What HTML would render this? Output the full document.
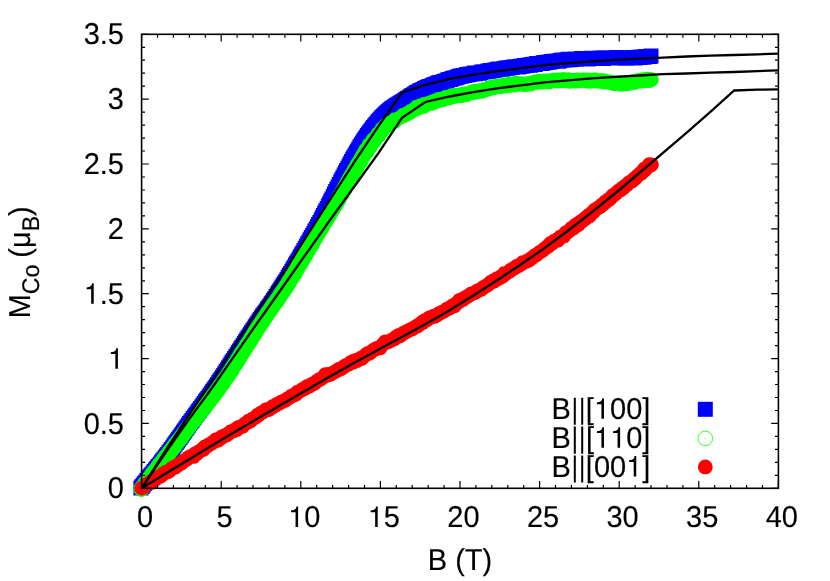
<!DOCTYPE html>
<html>
<head>
<meta charset="utf-8">
<title>M_Co vs B</title>
<style>
html,body{margin:0;padding:0;background:#fff;}
body{width:830px;height:581px;overflow:hidden;}
.h{fill:none;stroke:none;}
svg{display:block;will-change:transform;transform:translateZ(0);}
text{font-family:"Liberation Sans",sans-serif;font-size:29.0px;fill:#000;stroke:#000;stroke-width:0.15px;-webkit-font-smoothing:antialiased;text-rendering:geometricPrecision;font-kerning:none;font-feature-settings:"kern" 0;}
</style>
</head>
<body>
<svg width="830" height="581" viewBox="0 0 830 581">
<rect width="830" height="581" fill="#fff"/>
<!-- data: B||[100] -->
<path d="M133.4,480.4h15v15h-15zM134.6,479h15v15h-15zM135.8,477.5h15v15h-15zM137.1,476h15v15h-15zM138.3,474.5h15v15h-15zM139.5,472.9h15v15h-15zM140.7,471.4h15v15h-15zM141.9,470h15v15h-15zM143.1,468.6h15v15h-15zM144.4,466.9h15v15h-15zM145.6,465.5h15v15h-15zM146.8,463.9h15v15h-15zM148,462.5h15v15h-15zM149.2,460.9h15v15h-15zM150.4,459.3h15v15h-15zM151.7,457.9h15v15h-15zM152.9,456.5h15v15h-15zM154.1,454.7h15v15h-15zM155.3,453.2h15v15h-15zM156.5,451.7h15v15h-15zM157.7,450.1h15v15h-15zM159,448.6h15v15h-15zM160.2,446.9h15v15h-15zM161.4,445.3h15v15h-15zM162.6,443.8h15v15h-15zM163.8,442h15v15h-15zM165.1,440.4h15v15h-15zM166.3,438.6h15v15h-15zM167.5,436.8h15v15h-15zM168.7,435.1h15v15h-15zM169.9,433.6h15v15h-15zM171.1,431.7h15v15h-15zM172.4,430h15v15h-15zM173.6,428.2h15v15h-15zM174.8,426.5h15v15h-15zM176,424.8h15v15h-15zM177.2,423.2h15v15h-15zM178.4,421.2h15v15h-15zM179.7,419.5h15v15h-15zM180.9,417.8h15v15h-15zM182.1,416.1h15v15h-15zM183.3,414.6h15v15h-15zM184.5,412.9h15v15h-15zM185.7,411.1h15v15h-15zM187,409.4h15v15h-15zM188.2,407.8h15v15h-15zM189.4,406.2h15v15h-15zM190.6,404.3h15v15h-15zM191.8,402.8h15v15h-15zM193.1,401h15v15h-15zM194.3,399.5h15v15h-15zM195.5,397.7h15v15h-15zM196.7,396h15v15h-15zM197.9,394.3h15v15h-15zM199.1,392.6h15v15h-15zM200.4,391.1h15v15h-15zM201.6,389.3h15v15h-15zM202.8,387.5h15v15h-15zM204,385.7h15v15h-15zM205.2,383.9h15v15h-15zM206.4,382.2h15v15h-15zM207.7,380.5h15v15h-15zM208.9,378.7h15v15h-15zM210.1,376.9h15v15h-15zM211.3,375h15v15h-15zM212.5,373.3h15v15h-15zM213.7,371.4h15v15h-15zM215,369.7h15v15h-15zM216.2,367.9h15v15h-15zM217.4,365.9h15v15h-15zM218.6,364h15v15h-15zM219.8,362.2h15v15h-15zM221.1,360.3h15v15h-15zM222.3,358.4h15v15h-15zM223.5,356.6h15v15h-15zM224.7,354.6h15v15h-15zM225.9,352.9h15v15h-15zM227.1,351h15v15h-15zM228.4,349.1h15v15h-15zM229.6,347.2h15v15h-15zM230.8,345.3h15v15h-15zM232,343.4h15v15h-15zM233.2,341.6h15v15h-15zM234.4,339.7h15v15h-15zM235.7,337.9h15v15h-15zM236.9,336h15v15h-15zM238.1,334h15v15h-15zM239.3,332.3h15v15h-15zM240.5,330.3h15v15h-15zM241.8,328.5h15v15h-15zM243,326.7h15v15h-15zM244.2,324.7h15v15h-15zM245.4,323h15v15h-15zM246.6,321.2h15v15h-15zM247.8,319.3h15v15h-15zM249.1,317.5h15v15h-15zM250.3,315.7h15v15h-15zM251.5,313.8h15v15h-15zM252.7,312.1h15v15h-15zM253.9,310.3h15v15h-15zM255.1,308.6h15v15h-15zM256.4,306.8h15v15h-15zM257.6,305.2h15v15h-15zM258.8,303.4h15v15h-15zM260,301.6h15v15h-15zM261.2,299.9h15v15h-15zM262.4,298.2h15v15h-15zM263.7,296.3h15v15h-15zM264.9,294.7h15v15h-15zM266.1,292.8h15v15h-15zM267.3,291h15v15h-15zM268.5,289.1h15v15h-15zM269.8,287.2h15v15h-15zM271,285.3h15v15h-15zM272.2,283.5h15v15h-15zM273.4,281.6h15v15h-15zM274.6,279.6h15v15h-15zM275.8,277.6h15v15h-15zM277.1,275.8h15v15h-15zM278.3,273.9h15v15h-15zM279.5,271.9h15v15h-15zM280.7,269.8h15v15h-15zM281.9,267.7h15v15h-15zM283.1,265.9h15v15h-15zM284.4,263.8h15v15h-15zM285.6,261.6h15v15h-15zM286.8,259.7h15v15h-15zM288,257.5h15v15h-15zM289.2,255.5h15v15h-15zM290.4,253.4h15v15h-15zM291.7,251.5h15v15h-15zM292.9,249.3h15v15h-15zM294.1,247.2h15v15h-15zM295.3,245.2h15v15h-15zM296.5,243.1h15v15h-15zM297.8,240.8h15v15h-15zM299,238.7h15v15h-15zM300.2,236.5h15v15h-15zM301.4,234.4h15v15h-15zM302.6,232.3h15v15h-15zM303.8,230.1h15v15h-15zM305.1,227.9h15v15h-15zM306.3,225.8h15v15h-15zM307.5,223.5h15v15h-15zM308.7,221.4h15v15h-15zM309.9,219.3h15v15h-15zM311.1,217.1h15v15h-15zM312.4,214.9h15v15h-15zM313.6,212.6h15v15h-15zM314.8,210.2h15v15h-15zM316,208h15v15h-15zM317.2,205.6h15v15h-15zM318.4,203.2h15v15h-15zM319.7,201h15v15h-15zM320.9,198.6h15v15h-15zM322.1,196.2h15v15h-15zM323.3,193.7h15v15h-15zM324.5,191.4h15v15h-15zM325.8,189h15v15h-15zM327,186.6h15v15h-15zM328.2,184.1h15v15h-15zM329.4,181.8h15v15h-15zM330.6,179.5h15v15h-15zM331.8,177.1h15v15h-15zM333.1,174.6h15v15h-15zM334.3,172.3h15v15h-15zM335.5,170h15v15h-15zM336.7,167.4h15v15h-15zM337.9,165.3h15v15h-15zM339.1,163h15v15h-15zM340.4,160.7h15v15h-15zM341.6,158.5h15v15h-15zM342.8,156.2h15v15h-15zM344,154h15v15h-15zM345.2,151.8h15v15h-15zM346.4,149.7h15v15h-15zM347.7,147.5h15v15h-15zM348.9,145.4h15v15h-15zM350.1,143.4h15v15h-15zM351.3,141.4h15v15h-15zM352.5,139.2h15v15h-15zM353.8,137.3h15v15h-15zM355,135.4h15v15h-15zM356.2,133.6h15v15h-15zM357.4,131.7h15v15h-15zM358.6,130h15v15h-15zM359.8,128.1h15v15h-15zM361.1,126.5h15v15h-15zM362.3,124.8h15v15h-15zM363.5,123.2h15v15h-15zM364.7,121.6h15v15h-15zM365.9,119.9h15v15h-15zM367.1,118.4h15v15h-15zM368.4,116.9h15v15h-15zM369.6,115.4h15v15h-15zM370.8,114h15v15h-15zM372,112.8h15v15h-15zM373.2,111.4h15v15h-15zM374.4,110.1h15v15h-15zM375.7,108.8h15v15h-15zM376.9,107.7h15v15h-15zM378.1,106.5h15v15h-15zM379.3,105.5h15v15h-15zM380.5,104.2h15v15h-15zM381.8,103.2h15v15h-15zM383,102.3h15v15h-15zM384.2,101.3h15v15h-15zM385.4,100.6h15v15h-15zM386.6,99.7h15v15h-15zM387.8,98.8h15v15h-15zM389.1,98.1h15v15h-15zM390.3,97.3h15v15h-15zM391.5,96.6h15v15h-15zM392.7,95.7h15v15h-15zM393.9,94.9h15v15h-15zM395.1,94.3h15v15h-15zM396.4,93.6h15v15h-15zM397.6,92.8h15v15h-15zM398.8,91.8h15v15h-15zM400,91h15v15h-15zM401.2,90.4h15v15h-15zM402.5,89.5h15v15h-15zM403.7,88.6h15v15h-15zM404.9,88h15v15h-15zM406.1,87.3h15v15h-15zM407.3,86.4h15v15h-15zM408.5,85.5h15v15h-15zM409.8,84.8h15v15h-15zM411,84.4h15v15h-15zM412.2,83.5h15v15h-15zM413.4,83h15v15h-15zM414.6,82.4h15v15h-15zM415.8,81.9h15v15h-15zM417.1,81.1h15v15h-15zM418.3,80.7h15v15h-15zM419.5,80h15v15h-15zM420.7,79.6h15v15h-15zM421.9,79h15v15h-15zM423.1,78.9h15v15h-15zM424.4,78.2h15v15h-15zM425.6,77.6h15v15h-15zM426.8,77.2h15v15h-15zM428,76.8h15v15h-15zM429.2,76.5h15v15h-15zM430.5,75.6h15v15h-15zM431.7,75.3h15v15h-15zM432.9,75h15v15h-15zM434.1,75.2h15v15h-15zM435.3,74.5h15v15h-15zM436.5,73.9h15v15h-15zM437.8,73.6h15v15h-15zM439,73.5h15v15h-15zM440.2,72.6h15v15h-15zM441.4,72.1h15v15h-15zM442.6,72h15v15h-15zM443.8,71.4h15v15h-15zM445.1,71.1h15v15h-15zM446.3,70.5h15v15h-15zM447.5,70.6h15v15h-15zM448.7,70.2h15v15h-15zM449.9,69.6h15v15h-15zM451.1,69.3h15v15h-15zM452.4,68.4h15v15h-15zM453.6,68.7h15v15h-15zM454.8,68.3h15v15h-15zM456,68.1h15v15h-15zM457.2,67.9h15v15h-15zM458.5,67.5h15v15h-15zM459.7,67h15v15h-15zM460.9,67.2h15v15h-15zM462.1,66.7h15v15h-15zM463.3,66.6h15v15h-15zM464.5,66.4h15v15h-15zM465.8,66.2h15v15h-15zM467,65.6h15v15h-15zM468.2,66.2h15v15h-15zM469.4,65.8h15v15h-15zM470.6,65.8h15v15h-15zM471.8,65.8h15v15h-15zM473.1,65.2h15v15h-15zM474.3,64.6h15v15h-15zM475.5,64.6h15v15h-15zM476.7,64.3h15v15h-15zM477.9,64.3h15v15h-15zM479.1,64.2h15v15h-15zM480.4,63.5h15v15h-15zM481.6,63.7h15v15h-15zM482.8,63.1h15v15h-15zM484,63.2h15v15h-15zM485.2,62.9h15v15h-15zM486.5,62.7h15v15h-15zM487.7,62.5h15v15h-15zM488.9,62.2h15v15h-15zM490.1,61.9h15v15h-15zM491.3,61.5h15v15h-15zM492.5,61.6h15v15h-15zM493.8,61.8h15v15h-15zM495,61.6h15v15h-15zM496.2,61.3h15v15h-15zM497.4,61h15v15h-15zM498.6,60.5h15v15h-15zM499.8,60.8h15v15h-15zM501.1,60.3h15v15h-15zM502.3,60.2h15v15h-15zM503.5,60h15v15h-15zM504.7,59.9h15v15h-15zM505.9,59.6h15v15h-15zM507.1,59.5h15v15h-15zM508.4,59.2h15v15h-15zM509.6,59.2h15v15h-15zM510.8,59.6h15v15h-15zM512,58.9h15v15h-15zM513.2,58.7h15v15h-15zM514.5,58.7h15v15h-15zM515.7,58.6h15v15h-15zM516.9,58h15v15h-15zM518.1,58h15v15h-15zM519.3,58.1h15v15h-15zM520.5,57.8h15v15h-15zM521.8,57.6h15v15h-15zM523,57.7h15v15h-15zM524.2,57h15v15h-15zM525.4,57h15v15h-15zM526.6,56.7h15v15h-15zM527.8,56.9h15v15h-15zM529.1,56.1h15v15h-15zM530.3,56.1h15v15h-15zM531.5,56h15v15h-15zM532.7,56.1h15v15h-15zM533.9,55.9h15v15h-15zM535.1,55.8h15v15h-15zM536.4,55.1h15v15h-15zM537.6,55.3h15v15h-15zM538.8,55h15v15h-15zM540,54.7h15v15h-15zM541.2,54.8h15v15h-15zM542.5,54.4h15v15h-15zM543.7,53.9h15v15h-15zM544.9,54.1h15v15h-15zM546.1,53.7h15v15h-15zM547.3,53.7h15v15h-15zM548.5,53.8h15v15h-15zM549.8,53.6h15v15h-15zM551,53.7h15v15h-15zM552.2,53.2h15v15h-15zM553.4,52.7h15v15h-15zM554.6,52.8h15v15h-15zM555.8,52.6h15v15h-15zM557.1,52.4h15v15h-15zM558.3,52.5h15v15h-15zM559.5,52.2h15v15h-15zM560.7,51.8h15v15h-15zM561.9,52.2h15v15h-15zM563.2,51.9h15v15h-15zM564.4,51.9h15v15h-15zM565.6,51.7h15v15h-15zM566.8,51.7h15v15h-15zM568,51.6h15v15h-15zM569.2,51.8h15v15h-15zM570.5,51.5h15v15h-15zM571.7,51.5h15v15h-15zM572.9,51.5h15v15h-15zM574.1,51h15v15h-15zM575.3,51.3h15v15h-15zM576.5,51.2h15v15h-15zM577.8,51.3h15v15h-15zM579,50.9h15v15h-15zM580.2,51.5h15v15h-15zM581.4,51.2h15v15h-15zM582.6,50.9h15v15h-15zM583.8,50.7h15v15h-15zM585.1,50.9h15v15h-15zM586.3,50.9h15v15h-15zM587.5,50.8h15v15h-15zM588.7,50.9h15v15h-15zM589.9,50.7h15v15h-15zM591.2,50.8h15v15h-15zM592.4,50.5h15v15h-15zM593.6,50.6h15v15h-15zM594.8,50.8h15v15h-15zM596,51h15v15h-15zM597.2,50.3h15v15h-15zM598.5,50.4h15v15h-15zM599.7,50.3h15v15h-15zM600.9,50.6h15v15h-15zM602.1,50.2h15v15h-15zM603.3,50.3h15v15h-15zM604.5,50.3h15v15h-15zM605.8,50.2h15v15h-15zM607,50.2h15v15h-15zM608.2,50.4h15v15h-15zM609.4,50h15v15h-15zM610.6,50.2h15v15h-15zM611.8,50.4h15v15h-15zM613.1,50.6h15v15h-15zM614.3,50.5h15v15h-15zM615.5,50.2h15v15h-15zM616.7,50.5h15v15h-15zM617.9,50.7h15v15h-15zM619.2,50.7h15v15h-15zM620.4,50.5h15v15h-15zM621.6,50.3h15v15h-15zM622.8,50.6h15v15h-15zM624,50.3h15v15h-15zM625.2,50h15v15h-15zM626.5,50h15v15h-15zM627.7,50.4h15v15h-15zM628.9,50.1h15v15h-15zM630.1,50.1h15v15h-15zM631.3,49.7h15v15h-15zM632.5,49.9h15v15h-15zM633.8,49.4h15v15h-15zM635,49.4h15v15h-15zM636.2,49.7h15v15h-15zM637.4,49.3h15v15h-15zM638.6,48.9h15v15h-15zM639.8,49h15v15h-15zM641.1,48.9h15v15h-15zM642.3,49h15v15h-15zM643.5,48.6h15v15h-15z" fill="#0000ff"/>
<!-- data: B||[110] -->
<path d="M133.3,488.8a8.1,8.1 0 1,0 16.2,0a8.1,8.1 0 1,0 -16.2,0zM134.5,487.3a8.1,8.1 0 1,0 16.2,0a8.1,8.1 0 1,0 -16.2,0zM135.7,485.7a8.1,8.1 0 1,0 16.2,0a8.1,8.1 0 1,0 -16.2,0zM136.9,484.1a8.1,8.1 0 1,0 16.2,0a8.1,8.1 0 1,0 -16.2,0zM138.2,482.3a8.1,8.1 0 1,0 16.2,0a8.1,8.1 0 1,0 -16.2,0zM139.4,481a8.1,8.1 0 1,0 16.2,0a8.1,8.1 0 1,0 -16.2,0zM140.6,479.2a8.1,8.1 0 1,0 16.2,0a8.1,8.1 0 1,0 -16.2,0zM141.8,477.8a8.1,8.1 0 1,0 16.2,0a8.1,8.1 0 1,0 -16.2,0zM143,476.1a8.1,8.1 0 1,0 16.2,0a8.1,8.1 0 1,0 -16.2,0zM144.2,474.2a8.1,8.1 0 1,0 16.2,0a8.1,8.1 0 1,0 -16.2,0zM145.4,472.8a8.1,8.1 0 1,0 16.2,0a8.1,8.1 0 1,0 -16.2,0zM146.7,471.3a8.1,8.1 0 1,0 16.2,0a8.1,8.1 0 1,0 -16.2,0zM147.9,469.9a8.1,8.1 0 1,0 16.2,0a8.1,8.1 0 1,0 -16.2,0zM149.1,468.2a8.1,8.1 0 1,0 16.2,0a8.1,8.1 0 1,0 -16.2,0zM150.3,466.6a8.1,8.1 0 1,0 16.2,0a8.1,8.1 0 1,0 -16.2,0zM151.5,464.8a8.1,8.1 0 1,0 16.2,0a8.1,8.1 0 1,0 -16.2,0zM152.7,463.6a8.1,8.1 0 1,0 16.2,0a8.1,8.1 0 1,0 -16.2,0zM154,462.1a8.1,8.1 0 1,0 16.2,0a8.1,8.1 0 1,0 -16.2,0zM155.2,460.3a8.1,8.1 0 1,0 16.2,0a8.1,8.1 0 1,0 -16.2,0zM156.4,458.7a8.1,8.1 0 1,0 16.2,0a8.1,8.1 0 1,0 -16.2,0zM157.6,457a8.1,8.1 0 1,0 16.2,0a8.1,8.1 0 1,0 -16.2,0zM158.8,455.7a8.1,8.1 0 1,0 16.2,0a8.1,8.1 0 1,0 -16.2,0zM160,454.4a8.1,8.1 0 1,0 16.2,0a8.1,8.1 0 1,0 -16.2,0zM161.2,452.6a8.1,8.1 0 1,0 16.2,0a8.1,8.1 0 1,0 -16.2,0zM162.5,451.1a8.1,8.1 0 1,0 16.2,0a8.1,8.1 0 1,0 -16.2,0zM163.7,449.5a8.1,8.1 0 1,0 16.2,0a8.1,8.1 0 1,0 -16.2,0zM164.9,447.7a8.1,8.1 0 1,0 16.2,0a8.1,8.1 0 1,0 -16.2,0zM166.1,446.4a8.1,8.1 0 1,0 16.2,0a8.1,8.1 0 1,0 -16.2,0zM167.3,444.5a8.1,8.1 0 1,0 16.2,0a8.1,8.1 0 1,0 -16.2,0zM168.5,443a8.1,8.1 0 1,0 16.2,0a8.1,8.1 0 1,0 -16.2,0zM169.7,441.5a8.1,8.1 0 1,0 16.2,0a8.1,8.1 0 1,0 -16.2,0zM171,440a8.1,8.1 0 1,0 16.2,0a8.1,8.1 0 1,0 -16.2,0zM172.2,438.4a8.1,8.1 0 1,0 16.2,0a8.1,8.1 0 1,0 -16.2,0zM173.4,436.8a8.1,8.1 0 1,0 16.2,0a8.1,8.1 0 1,0 -16.2,0zM174.6,435a8.1,8.1 0 1,0 16.2,0a8.1,8.1 0 1,0 -16.2,0zM175.8,433.4a8.1,8.1 0 1,0 16.2,0a8.1,8.1 0 1,0 -16.2,0zM177,432a8.1,8.1 0 1,0 16.2,0a8.1,8.1 0 1,0 -16.2,0zM178.2,430.3a8.1,8.1 0 1,0 16.2,0a8.1,8.1 0 1,0 -16.2,0zM179.5,428.6a8.1,8.1 0 1,0 16.2,0a8.1,8.1 0 1,0 -16.2,0zM180.7,427a8.1,8.1 0 1,0 16.2,0a8.1,8.1 0 1,0 -16.2,0zM181.9,425.5a8.1,8.1 0 1,0 16.2,0a8.1,8.1 0 1,0 -16.2,0zM183.1,423.8a8.1,8.1 0 1,0 16.2,0a8.1,8.1 0 1,0 -16.2,0zM184.3,422.3a8.1,8.1 0 1,0 16.2,0a8.1,8.1 0 1,0 -16.2,0zM185.5,420.7a8.1,8.1 0 1,0 16.2,0a8.1,8.1 0 1,0 -16.2,0zM186.8,419.3a8.1,8.1 0 1,0 16.2,0a8.1,8.1 0 1,0 -16.2,0zM188,417.8a8.1,8.1 0 1,0 16.2,0a8.1,8.1 0 1,0 -16.2,0zM189.2,416.4a8.1,8.1 0 1,0 16.2,0a8.1,8.1 0 1,0 -16.2,0zM190.4,414.4a8.1,8.1 0 1,0 16.2,0a8.1,8.1 0 1,0 -16.2,0zM191.6,413a8.1,8.1 0 1,0 16.2,0a8.1,8.1 0 1,0 -16.2,0zM192.8,411.7a8.1,8.1 0 1,0 16.2,0a8.1,8.1 0 1,0 -16.2,0zM194,410a8.1,8.1 0 1,0 16.2,0a8.1,8.1 0 1,0 -16.2,0zM195.3,408.5a8.1,8.1 0 1,0 16.2,0a8.1,8.1 0 1,0 -16.2,0zM196.5,407.2a8.1,8.1 0 1,0 16.2,0a8.1,8.1 0 1,0 -16.2,0zM197.7,405.4a8.1,8.1 0 1,0 16.2,0a8.1,8.1 0 1,0 -16.2,0zM198.9,403.8a8.1,8.1 0 1,0 16.2,0a8.1,8.1 0 1,0 -16.2,0zM200.1,402.2a8.1,8.1 0 1,0 16.2,0a8.1,8.1 0 1,0 -16.2,0zM201.3,400.9a8.1,8.1 0 1,0 16.2,0a8.1,8.1 0 1,0 -16.2,0zM202.5,399.3a8.1,8.1 0 1,0 16.2,0a8.1,8.1 0 1,0 -16.2,0zM203.8,397.6a8.1,8.1 0 1,0 16.2,0a8.1,8.1 0 1,0 -16.2,0zM205,396a8.1,8.1 0 1,0 16.2,0a8.1,8.1 0 1,0 -16.2,0zM206.2,394.6a8.1,8.1 0 1,0 16.2,0a8.1,8.1 0 1,0 -16.2,0zM207.4,393a8.1,8.1 0 1,0 16.2,0a8.1,8.1 0 1,0 -16.2,0zM208.6,391.3a8.1,8.1 0 1,0 16.2,0a8.1,8.1 0 1,0 -16.2,0zM209.8,389.8a8.1,8.1 0 1,0 16.2,0a8.1,8.1 0 1,0 -16.2,0zM211,388.1a8.1,8.1 0 1,0 16.2,0a8.1,8.1 0 1,0 -16.2,0zM212.3,386.1a8.1,8.1 0 1,0 16.2,0a8.1,8.1 0 1,0 -16.2,0zM213.5,384.6a8.1,8.1 0 1,0 16.2,0a8.1,8.1 0 1,0 -16.2,0zM214.7,382.9a8.1,8.1 0 1,0 16.2,0a8.1,8.1 0 1,0 -16.2,0zM215.9,381a8.1,8.1 0 1,0 16.2,0a8.1,8.1 0 1,0 -16.2,0zM217.1,379.1a8.1,8.1 0 1,0 16.2,0a8.1,8.1 0 1,0 -16.2,0zM218.3,377.5a8.1,8.1 0 1,0 16.2,0a8.1,8.1 0 1,0 -16.2,0zM219.6,375.7a8.1,8.1 0 1,0 16.2,0a8.1,8.1 0 1,0 -16.2,0zM220.8,374a8.1,8.1 0 1,0 16.2,0a8.1,8.1 0 1,0 -16.2,0zM222,371.7a8.1,8.1 0 1,0 16.2,0a8.1,8.1 0 1,0 -16.2,0zM223.2,370.4a8.1,8.1 0 1,0 16.2,0a8.1,8.1 0 1,0 -16.2,0zM224.4,368a8.1,8.1 0 1,0 16.2,0a8.1,8.1 0 1,0 -16.2,0zM225.6,366.3a8.1,8.1 0 1,0 16.2,0a8.1,8.1 0 1,0 -16.2,0zM226.8,364.5a8.1,8.1 0 1,0 16.2,0a8.1,8.1 0 1,0 -16.2,0zM228.1,362.5a8.1,8.1 0 1,0 16.2,0a8.1,8.1 0 1,0 -16.2,0zM229.3,360.5a8.1,8.1 0 1,0 16.2,0a8.1,8.1 0 1,0 -16.2,0zM230.5,358.4a8.1,8.1 0 1,0 16.2,0a8.1,8.1 0 1,0 -16.2,0zM231.7,356.6a8.1,8.1 0 1,0 16.2,0a8.1,8.1 0 1,0 -16.2,0zM232.9,354.6a8.1,8.1 0 1,0 16.2,0a8.1,8.1 0 1,0 -16.2,0zM234.1,352.4a8.1,8.1 0 1,0 16.2,0a8.1,8.1 0 1,0 -16.2,0zM235.3,351.2a8.1,8.1 0 1,0 16.2,0a8.1,8.1 0 1,0 -16.2,0zM236.6,349a8.1,8.1 0 1,0 16.2,0a8.1,8.1 0 1,0 -16.2,0zM237.8,347.2a8.1,8.1 0 1,0 16.2,0a8.1,8.1 0 1,0 -16.2,0zM239,345a8.1,8.1 0 1,0 16.2,0a8.1,8.1 0 1,0 -16.2,0zM240.2,343.4a8.1,8.1 0 1,0 16.2,0a8.1,8.1 0 1,0 -16.2,0zM241.4,341.5a8.1,8.1 0 1,0 16.2,0a8.1,8.1 0 1,0 -16.2,0zM242.6,339.6a8.1,8.1 0 1,0 16.2,0a8.1,8.1 0 1,0 -16.2,0zM243.8,337.5a8.1,8.1 0 1,0 16.2,0a8.1,8.1 0 1,0 -16.2,0zM245.1,335.5a8.1,8.1 0 1,0 16.2,0a8.1,8.1 0 1,0 -16.2,0zM246.3,333.7a8.1,8.1 0 1,0 16.2,0a8.1,8.1 0 1,0 -16.2,0zM247.5,331.5a8.1,8.1 0 1,0 16.2,0a8.1,8.1 0 1,0 -16.2,0zM248.7,329.7a8.1,8.1 0 1,0 16.2,0a8.1,8.1 0 1,0 -16.2,0zM249.9,328a8.1,8.1 0 1,0 16.2,0a8.1,8.1 0 1,0 -16.2,0zM251.1,326a8.1,8.1 0 1,0 16.2,0a8.1,8.1 0 1,0 -16.2,0zM252.4,324.2a8.1,8.1 0 1,0 16.2,0a8.1,8.1 0 1,0 -16.2,0zM253.6,322.4a8.1,8.1 0 1,0 16.2,0a8.1,8.1 0 1,0 -16.2,0zM254.8,320.8a8.1,8.1 0 1,0 16.2,0a8.1,8.1 0 1,0 -16.2,0zM256,318.8a8.1,8.1 0 1,0 16.2,0a8.1,8.1 0 1,0 -16.2,0zM257.2,316.9a8.1,8.1 0 1,0 16.2,0a8.1,8.1 0 1,0 -16.2,0zM258.4,315.2a8.1,8.1 0 1,0 16.2,0a8.1,8.1 0 1,0 -16.2,0zM259.6,313.2a8.1,8.1 0 1,0 16.2,0a8.1,8.1 0 1,0 -16.2,0zM260.9,311.5a8.1,8.1 0 1,0 16.2,0a8.1,8.1 0 1,0 -16.2,0zM262.1,309.9a8.1,8.1 0 1,0 16.2,0a8.1,8.1 0 1,0 -16.2,0zM263.3,307.9a8.1,8.1 0 1,0 16.2,0a8.1,8.1 0 1,0 -16.2,0zM264.5,306.3a8.1,8.1 0 1,0 16.2,0a8.1,8.1 0 1,0 -16.2,0zM265.7,304.5a8.1,8.1 0 1,0 16.2,0a8.1,8.1 0 1,0 -16.2,0zM266.9,303a8.1,8.1 0 1,0 16.2,0a8.1,8.1 0 1,0 -16.2,0zM268.1,301.4a8.1,8.1 0 1,0 16.2,0a8.1,8.1 0 1,0 -16.2,0zM269.4,299.4a8.1,8.1 0 1,0 16.2,0a8.1,8.1 0 1,0 -16.2,0zM270.6,297.8a8.1,8.1 0 1,0 16.2,0a8.1,8.1 0 1,0 -16.2,0zM271.8,295.9a8.1,8.1 0 1,0 16.2,0a8.1,8.1 0 1,0 -16.2,0zM273,294.1a8.1,8.1 0 1,0 16.2,0a8.1,8.1 0 1,0 -16.2,0zM274.2,292.3a8.1,8.1 0 1,0 16.2,0a8.1,8.1 0 1,0 -16.2,0zM275.4,290.8a8.1,8.1 0 1,0 16.2,0a8.1,8.1 0 1,0 -16.2,0zM276.6,289a8.1,8.1 0 1,0 16.2,0a8.1,8.1 0 1,0 -16.2,0zM277.9,286.9a8.1,8.1 0 1,0 16.2,0a8.1,8.1 0 1,0 -16.2,0zM279.1,284.9a8.1,8.1 0 1,0 16.2,0a8.1,8.1 0 1,0 -16.2,0zM280.3,283.1a8.1,8.1 0 1,0 16.2,0a8.1,8.1 0 1,0 -16.2,0zM281.5,281.1a8.1,8.1 0 1,0 16.2,0a8.1,8.1 0 1,0 -16.2,0zM282.7,279.3a8.1,8.1 0 1,0 16.2,0a8.1,8.1 0 1,0 -16.2,0zM283.9,277.3a8.1,8.1 0 1,0 16.2,0a8.1,8.1 0 1,0 -16.2,0zM285.1,275.3a8.1,8.1 0 1,0 16.2,0a8.1,8.1 0 1,0 -16.2,0zM286.4,273.4a8.1,8.1 0 1,0 16.2,0a8.1,8.1 0 1,0 -16.2,0zM287.6,271.2a8.1,8.1 0 1,0 16.2,0a8.1,8.1 0 1,0 -16.2,0zM288.8,269.2a8.1,8.1 0 1,0 16.2,0a8.1,8.1 0 1,0 -16.2,0zM290,267a8.1,8.1 0 1,0 16.2,0a8.1,8.1 0 1,0 -16.2,0zM291.2,265.1a8.1,8.1 0 1,0 16.2,0a8.1,8.1 0 1,0 -16.2,0zM292.4,262.9a8.1,8.1 0 1,0 16.2,0a8.1,8.1 0 1,0 -16.2,0zM293.7,261a8.1,8.1 0 1,0 16.2,0a8.1,8.1 0 1,0 -16.2,0zM294.9,258.8a8.1,8.1 0 1,0 16.2,0a8.1,8.1 0 1,0 -16.2,0zM296.1,256.8a8.1,8.1 0 1,0 16.2,0a8.1,8.1 0 1,0 -16.2,0zM297.3,254.8a8.1,8.1 0 1,0 16.2,0a8.1,8.1 0 1,0 -16.2,0zM298.5,252.5a8.1,8.1 0 1,0 16.2,0a8.1,8.1 0 1,0 -16.2,0zM299.7,250.4a8.1,8.1 0 1,0 16.2,0a8.1,8.1 0 1,0 -16.2,0zM300.9,248.3a8.1,8.1 0 1,0 16.2,0a8.1,8.1 0 1,0 -16.2,0zM302.2,246.5a8.1,8.1 0 1,0 16.2,0a8.1,8.1 0 1,0 -16.2,0zM303.4,244.5a8.1,8.1 0 1,0 16.2,0a8.1,8.1 0 1,0 -16.2,0zM304.6,242.3a8.1,8.1 0 1,0 16.2,0a8.1,8.1 0 1,0 -16.2,0zM305.8,240.1a8.1,8.1 0 1,0 16.2,0a8.1,8.1 0 1,0 -16.2,0zM307,238.2a8.1,8.1 0 1,0 16.2,0a8.1,8.1 0 1,0 -16.2,0zM308.2,235.8a8.1,8.1 0 1,0 16.2,0a8.1,8.1 0 1,0 -16.2,0zM309.4,234.1a8.1,8.1 0 1,0 16.2,0a8.1,8.1 0 1,0 -16.2,0zM310.7,231.8a8.1,8.1 0 1,0 16.2,0a8.1,8.1 0 1,0 -16.2,0zM311.9,229.6a8.1,8.1 0 1,0 16.2,0a8.1,8.1 0 1,0 -16.2,0zM313.1,228.2a8.1,8.1 0 1,0 16.2,0a8.1,8.1 0 1,0 -16.2,0zM314.3,226a8.1,8.1 0 1,0 16.2,0a8.1,8.1 0 1,0 -16.2,0zM315.5,223.7a8.1,8.1 0 1,0 16.2,0a8.1,8.1 0 1,0 -16.2,0zM316.7,221.9a8.1,8.1 0 1,0 16.2,0a8.1,8.1 0 1,0 -16.2,0zM317.9,219.9a8.1,8.1 0 1,0 16.2,0a8.1,8.1 0 1,0 -16.2,0zM319.2,217.9a8.1,8.1 0 1,0 16.2,0a8.1,8.1 0 1,0 -16.2,0zM320.4,215.8a8.1,8.1 0 1,0 16.2,0a8.1,8.1 0 1,0 -16.2,0zM321.6,213.9a8.1,8.1 0 1,0 16.2,0a8.1,8.1 0 1,0 -16.2,0zM322.8,212.1a8.1,8.1 0 1,0 16.2,0a8.1,8.1 0 1,0 -16.2,0zM324,210a8.1,8.1 0 1,0 16.2,0a8.1,8.1 0 1,0 -16.2,0zM325.2,208.1a8.1,8.1 0 1,0 16.2,0a8.1,8.1 0 1,0 -16.2,0zM326.5,206a8.1,8.1 0 1,0 16.2,0a8.1,8.1 0 1,0 -16.2,0zM327.7,204.2a8.1,8.1 0 1,0 16.2,0a8.1,8.1 0 1,0 -16.2,0zM328.9,201.7a8.1,8.1 0 1,0 16.2,0a8.1,8.1 0 1,0 -16.2,0zM330.1,199.7a8.1,8.1 0 1,0 16.2,0a8.1,8.1 0 1,0 -16.2,0zM331.3,197.3a8.1,8.1 0 1,0 16.2,0a8.1,8.1 0 1,0 -16.2,0zM332.5,195.2a8.1,8.1 0 1,0 16.2,0a8.1,8.1 0 1,0 -16.2,0zM333.7,193.4a8.1,8.1 0 1,0 16.2,0a8.1,8.1 0 1,0 -16.2,0zM335,191a8.1,8.1 0 1,0 16.2,0a8.1,8.1 0 1,0 -16.2,0zM336.2,189a8.1,8.1 0 1,0 16.2,0a8.1,8.1 0 1,0 -16.2,0zM337.4,186.7a8.1,8.1 0 1,0 16.2,0a8.1,8.1 0 1,0 -16.2,0zM338.6,184.4a8.1,8.1 0 1,0 16.2,0a8.1,8.1 0 1,0 -16.2,0zM339.8,182.3a8.1,8.1 0 1,0 16.2,0a8.1,8.1 0 1,0 -16.2,0zM341,180.2a8.1,8.1 0 1,0 16.2,0a8.1,8.1 0 1,0 -16.2,0zM342.2,178a8.1,8.1 0 1,0 16.2,0a8.1,8.1 0 1,0 -16.2,0zM343.5,176a8.1,8.1 0 1,0 16.2,0a8.1,8.1 0 1,0 -16.2,0zM344.7,173.8a8.1,8.1 0 1,0 16.2,0a8.1,8.1 0 1,0 -16.2,0zM345.9,171.5a8.1,8.1 0 1,0 16.2,0a8.1,8.1 0 1,0 -16.2,0zM347.1,169.4a8.1,8.1 0 1,0 16.2,0a8.1,8.1 0 1,0 -16.2,0zM348.3,167.4a8.1,8.1 0 1,0 16.2,0a8.1,8.1 0 1,0 -16.2,0zM349.5,165.3a8.1,8.1 0 1,0 16.2,0a8.1,8.1 0 1,0 -16.2,0zM350.7,163.3a8.1,8.1 0 1,0 16.2,0a8.1,8.1 0 1,0 -16.2,0zM352,161.4a8.1,8.1 0 1,0 16.2,0a8.1,8.1 0 1,0 -16.2,0zM353.2,159.2a8.1,8.1 0 1,0 16.2,0a8.1,8.1 0 1,0 -16.2,0zM354.4,157.1a8.1,8.1 0 1,0 16.2,0a8.1,8.1 0 1,0 -16.2,0zM355.6,155.1a8.1,8.1 0 1,0 16.2,0a8.1,8.1 0 1,0 -16.2,0zM356.8,153.1a8.1,8.1 0 1,0 16.2,0a8.1,8.1 0 1,0 -16.2,0zM358.1,151.2a8.1,8.1 0 1,0 16.1,0a8.1,8.1 0 1,0 -16.1,0zM359.4,149.3a8,8 0 1,0 16.1,0a8,8 0 1,0 -16.1,0zM360.7,147.5a8,8 0 1,0 16,0a8,8 0 1,0 -16,0zM361.9,145.8a8,8 0 1,0 15.9,0a8,8 0 1,0 -15.9,0zM363.2,144.2a7.9,7.9 0 1,0 15.9,0a7.9,7.9 0 1,0 -15.9,0zM364.5,142.4a7.9,7.9 0 1,0 15.8,0a7.9,7.9 0 1,0 -15.8,0zM365.8,140.7a7.9,7.9 0 1,0 15.7,0a7.9,7.9 0 1,0 -15.7,0zM367,139a7.8,7.8 0 1,0 15.7,0a7.8,7.8 0 1,0 -15.7,0zM368.3,137.7a7.8,7.8 0 1,0 15.6,0a7.8,7.8 0 1,0 -15.6,0zM369.6,136a7.8,7.8 0 1,0 15.6,0a7.8,7.8 0 1,0 -15.6,0zM370.9,134.6a7.8,7.8 0 1,0 15.5,0a7.8,7.8 0 1,0 -15.5,0zM372.1,132.9a7.7,7.7 0 1,0 15.4,0a7.7,7.7 0 1,0 -15.4,0zM373.4,131.5a7.7,7.7 0 1,0 15.4,0a7.7,7.7 0 1,0 -15.4,0zM374.7,129.8a7.7,7.7 0 1,0 15.3,0a7.7,7.7 0 1,0 -15.3,0zM376,128.6a7.6,7.6 0 1,0 15.3,0a7.6,7.6 0 1,0 -15.3,0zM377.2,127.6a7.6,7.6 0 1,0 15.2,0a7.6,7.6 0 1,0 -15.2,0zM378.5,125.9a7.6,7.6 0 1,0 15.1,0a7.6,7.6 0 1,0 -15.1,0zM379.8,125.2a7.5,7.5 0 1,0 15,0a7.5,7.5 0 1,0 -15,0zM381.1,124.4a7.5,7.5 0 1,0 14.9,0a7.5,7.5 0 1,0 -14.9,0zM382.4,123.4a7.4,7.4 0 1,0 14.9,0a7.4,7.4 0 1,0 -14.9,0zM383.6,122.7a7.4,7.4 0 1,0 14.8,0a7.4,7.4 0 1,0 -14.8,0zM384.9,122.1a7.3,7.3 0 1,0 14.7,0a7.3,7.3 0 1,0 -14.7,0zM386.2,121.1a7.3,7.3 0 1,0 14.6,0a7.3,7.3 0 1,0 -14.6,0zM387.4,120.7a7.3,7.3 0 1,0 14.5,0a7.3,7.3 0 1,0 -14.5,0zM388.7,119.8a7.2,7.2 0 1,0 14.4,0a7.2,7.2 0 1,0 -14.4,0zM389.9,119.2a7.2,7.2 0 1,0 14.4,0a7.2,7.2 0 1,0 -14.4,0zM391.2,118.5a7.1,7.1 0 1,0 14.3,0a7.1,7.1 0 1,0 -14.3,0zM392.4,117.9a7.1,7.1 0 1,0 14.2,0a7.1,7.1 0 1,0 -14.2,0zM393.7,117.3a7,7 0 1,0 14.1,0a7,7 0 1,0 -14.1,0zM395,116.7a7,7 0 1,0 14,0a7,7 0 1,0 -14,0zM396.2,115.7a7,7 0 1,0 13.9,0a7,7 0 1,0 -13.9,0zM397.5,115.7a6.9,6.9 0 1,0 13.8,0a6.9,6.9 0 1,0 -13.8,0zM398.7,114.9a6.9,6.9 0 1,0 13.8,0a6.9,6.9 0 1,0 -13.8,0zM399.9,114.1a7,7 0 1,0 13.9,0a7,7 0 1,0 -13.9,0zM401,113.1a7,7 0 1,0 14,0a7,7 0 1,0 -14,0zM402.2,112.5a7,7 0 1,0 14.1,0a7,7 0 1,0 -14.1,0zM403.4,111.9a7.1,7.1 0 1,0 14.1,0a7.1,7.1 0 1,0 -14.1,0zM404.6,111.2a7.1,7.1 0 1,0 14.2,0a7.1,7.1 0 1,0 -14.2,0zM405.8,110a7.1,7.1 0 1,0 14.3,0a7.1,7.1 0 1,0 -14.3,0zM406.9,110a7.2,7.2 0 1,0 14.4,0a7.2,7.2 0 1,0 -14.4,0zM408.1,109.9a7.2,7.2 0 1,0 14.4,0a7.2,7.2 0 1,0 -14.4,0zM409.3,108a7.3,7.3 0 1,0 14.5,0a7.3,7.3 0 1,0 -14.5,0zM410.5,108.2a7.3,7.3 0 1,0 14.6,0a7.3,7.3 0 1,0 -14.6,0zM411.6,107.5a7.3,7.3 0 1,0 14.7,0a7.3,7.3 0 1,0 -14.7,0zM412.8,106.8a7.4,7.4 0 1,0 14.7,0a7.4,7.4 0 1,0 -14.7,0zM414,106.7a7.4,7.4 0 1,0 14.8,0a7.4,7.4 0 1,0 -14.8,0zM415.2,105.4a7.4,7.4 0 1,0 14.9,0a7.4,7.4 0 1,0 -14.9,0zM416.4,105.3a7.5,7.5 0 1,0 14.9,0a7.5,7.5 0 1,0 -14.9,0zM417.5,105.2a7.5,7.5 0 1,0 15,0a7.5,7.5 0 1,0 -15,0zM418.7,104.3a7.5,7.5 0 1,0 15.1,0a7.5,7.5 0 1,0 -15.1,0zM419.9,103.8a7.6,7.6 0 1,0 15.2,0a7.6,7.6 0 1,0 -15.2,0zM421.1,103.6a7.6,7.6 0 1,0 15.2,0a7.6,7.6 0 1,0 -15.2,0zM422.3,103a7.6,7.6 0 1,0 15.2,0a7.6,7.6 0 1,0 -15.2,0zM423.5,103.3a7.6,7.6 0 1,0 15.2,0a7.6,7.6 0 1,0 -15.2,0zM424.7,102.1a7.6,7.6 0 1,0 15.2,0a7.6,7.6 0 1,0 -15.2,0zM426,102.3a7.6,7.6 0 1,0 15.2,0a7.6,7.6 0 1,0 -15.2,0zM427.2,101.2a7.6,7.6 0 1,0 15.2,0a7.6,7.6 0 1,0 -15.2,0zM428.4,101.5a7.6,7.6 0 1,0 15.2,0a7.6,7.6 0 1,0 -15.2,0zM429.6,100.8a7.6,7.6 0 1,0 15.2,0a7.6,7.6 0 1,0 -15.2,0zM430.8,99.5a7.6,7.6 0 1,0 15.2,0a7.6,7.6 0 1,0 -15.2,0zM432,100.1a7.6,7.6 0 1,0 15.2,0a7.6,7.6 0 1,0 -15.2,0zM433.2,99.3a7.6,7.6 0 1,0 15.2,0a7.6,7.6 0 1,0 -15.2,0zM434.5,99.1a7.6,7.6 0 1,0 15.2,0a7.6,7.6 0 1,0 -15.2,0zM435.7,99.5a7.6,7.6 0 1,0 15.2,0a7.6,7.6 0 1,0 -15.2,0zM436.9,98a7.6,7.6 0 1,0 15.2,0a7.6,7.6 0 1,0 -15.2,0zM438.1,97.6a7.6,7.6 0 1,0 15.2,0a7.6,7.6 0 1,0 -15.2,0zM439.3,98.2a7.6,7.6 0 1,0 15.2,0a7.6,7.6 0 1,0 -15.2,0zM440.5,97.3a7.6,7.6 0 1,0 15.2,0a7.6,7.6 0 1,0 -15.2,0zM441.7,97.6a7.6,7.6 0 1,0 15.2,0a7.6,7.6 0 1,0 -15.2,0zM443,96.7a7.6,7.6 0 1,0 15.2,0a7.6,7.6 0 1,0 -15.2,0zM444.2,95.9a7.6,7.6 0 1,0 15.2,0a7.6,7.6 0 1,0 -15.2,0zM445.4,96a7.6,7.6 0 1,0 15.2,0a7.6,7.6 0 1,0 -15.2,0zM446.6,96.3a7.6,7.6 0 1,0 15.2,0a7.6,7.6 0 1,0 -15.2,0zM447.8,96a7.6,7.6 0 1,0 15.2,0a7.6,7.6 0 1,0 -15.2,0zM449,95.4a7.6,7.6 0 1,0 15.2,0a7.6,7.6 0 1,0 -15.2,0zM450.2,95.3a7.6,7.6 0 1,0 15.2,0a7.6,7.6 0 1,0 -15.2,0zM451.5,95.1a7.6,7.6 0 1,0 15.2,0a7.6,7.6 0 1,0 -15.2,0zM452.7,94.8a7.6,7.6 0 1,0 15.2,0a7.6,7.6 0 1,0 -15.2,0zM453.9,95.7a7.6,7.6 0 1,0 15.2,0a7.6,7.6 0 1,0 -15.2,0zM455.1,94.7a7.6,7.6 0 1,0 15.2,0a7.6,7.6 0 1,0 -15.2,0zM456.3,94.1a7.6,7.6 0 1,0 15.2,0a7.6,7.6 0 1,0 -15.2,0zM457.5,94.2a7.6,7.6 0 1,0 15.2,0a7.6,7.6 0 1,0 -15.2,0zM458.8,94.4a7.6,7.6 0 1,0 15.2,0a7.6,7.6 0 1,0 -15.2,0zM460,94.1a7.6,7.6 0 1,0 15.2,0a7.6,7.6 0 1,0 -15.2,0zM461.2,93.5a7.6,7.6 0 1,0 15.2,0a7.6,7.6 0 1,0 -15.2,0zM462.4,92.9a7.6,7.6 0 1,0 15.2,0a7.6,7.6 0 1,0 -15.2,0zM463.6,92.9a7.6,7.6 0 1,0 15.2,0a7.6,7.6 0 1,0 -15.2,0zM464.8,91.9a7.6,7.6 0 1,0 15.2,0a7.6,7.6 0 1,0 -15.2,0zM466,91.7a7.6,7.6 0 1,0 15.2,0a7.6,7.6 0 1,0 -15.2,0zM467.3,92.2a7.6,7.6 0 1,0 15.2,0a7.6,7.6 0 1,0 -15.2,0zM468.5,91.4a7.6,7.6 0 1,0 15.2,0a7.6,7.6 0 1,0 -15.2,0zM469.7,91.5a7.6,7.6 0 1,0 15.2,0a7.6,7.6 0 1,0 -15.2,0zM470.9,91.5a7.6,7.6 0 1,0 15.2,0a7.6,7.6 0 1,0 -15.2,0zM472.1,91a7.6,7.6 0 1,0 15.2,0a7.6,7.6 0 1,0 -15.2,0zM473.3,90.5a7.6,7.6 0 1,0 15.2,0a7.6,7.6 0 1,0 -15.2,0zM474.5,91.1a7.6,7.6 0 1,0 15.2,0a7.6,7.6 0 1,0 -15.2,0zM475.8,90.2a7.6,7.6 0 1,0 15.2,0a7.6,7.6 0 1,0 -15.2,0zM477,89.5a7.6,7.6 0 1,0 15.2,0a7.6,7.6 0 1,0 -15.2,0zM478.2,89.7a7.6,7.6 0 1,0 15.2,0a7.6,7.6 0 1,0 -15.2,0zM479.4,89.2a7.6,7.6 0 1,0 15.2,0a7.6,7.6 0 1,0 -15.2,0zM480.6,88.4a7.6,7.6 0 1,0 15.2,0a7.6,7.6 0 1,0 -15.2,0zM481.8,88.5a7.6,7.6 0 1,0 15.2,0a7.6,7.6 0 1,0 -15.2,0zM483,88.1a7.6,7.6 0 1,0 15.2,0a7.6,7.6 0 1,0 -15.2,0zM484.3,87.1a7.6,7.6 0 1,0 15.2,0a7.6,7.6 0 1,0 -15.2,0zM485.5,87.6a7.6,7.6 0 1,0 15.2,0a7.6,7.6 0 1,0 -15.2,0zM486.7,87.3a7.6,7.6 0 1,0 15.2,0a7.6,7.6 0 1,0 -15.2,0zM487.9,87a7.6,7.6 0 1,0 15.2,0a7.6,7.6 0 1,0 -15.2,0zM489.1,86.3a7.6,7.6 0 1,0 15.2,0a7.6,7.6 0 1,0 -15.2,0zM490.3,86.6a7.6,7.6 0 1,0 15.2,0a7.6,7.6 0 1,0 -15.2,0zM491.6,86.4a7.6,7.6 0 1,0 15.2,0a7.6,7.6 0 1,0 -15.2,0zM492.8,86.3a7.6,7.6 0 1,0 15.2,0a7.6,7.6 0 1,0 -15.2,0zM494,85.6a7.6,7.6 0 1,0 15.2,0a7.6,7.6 0 1,0 -15.2,0zM495.2,86.1a7.6,7.6 0 1,0 15.2,0a7.6,7.6 0 1,0 -15.2,0zM496.4,85.1a7.6,7.6 0 1,0 15.2,0a7.6,7.6 0 1,0 -15.2,0zM497.6,85.3a7.6,7.6 0 1,0 15.2,0a7.6,7.6 0 1,0 -15.2,0zM498.8,85.7a7.6,7.6 0 1,0 15.2,0a7.6,7.6 0 1,0 -15.2,0zM500.1,84.7a7.6,7.6 0 1,0 15.2,0a7.6,7.6 0 1,0 -15.2,0zM501.3,84.7a7.6,7.6 0 1,0 15.2,0a7.6,7.6 0 1,0 -15.2,0zM502.5,85.2a7.6,7.6 0 1,0 15.2,0a7.6,7.6 0 1,0 -15.2,0zM503.7,84.4a7.6,7.6 0 1,0 15.2,0a7.6,7.6 0 1,0 -15.2,0zM504.9,84.3a7.6,7.6 0 1,0 15.2,0a7.6,7.6 0 1,0 -15.2,0zM506.1,84.4a7.6,7.6 0 1,0 15.2,0a7.6,7.6 0 1,0 -15.2,0zM507.3,84.8a7.6,7.6 0 1,0 15.2,0a7.6,7.6 0 1,0 -15.2,0zM508.6,83.4a7.6,7.6 0 1,0 15.2,0a7.6,7.6 0 1,0 -15.2,0zM509.8,83.9a7.6,7.6 0 1,0 15.2,0a7.6,7.6 0 1,0 -15.2,0zM511,83.9a7.6,7.6 0 1,0 15.2,0a7.6,7.6 0 1,0 -15.2,0zM512.2,83.9a7.6,7.6 0 1,0 15.2,0a7.6,7.6 0 1,0 -15.2,0zM513.4,84a7.6,7.6 0 1,0 15.2,0a7.6,7.6 0 1,0 -15.2,0zM514.6,84.1a7.6,7.6 0 1,0 15.2,0a7.6,7.6 0 1,0 -15.2,0zM515.8,84.5a7.6,7.6 0 1,0 15.2,0a7.6,7.6 0 1,0 -15.2,0zM517.1,84a7.6,7.6 0 1,0 15.2,0a7.6,7.6 0 1,0 -15.2,0zM518.3,84.3a7.6,7.6 0 1,0 15.2,0a7.6,7.6 0 1,0 -15.2,0zM519.5,84.2a7.6,7.6 0 1,0 15.2,0a7.6,7.6 0 1,0 -15.2,0zM520.7,83.5a7.6,7.6 0 1,0 15.2,0a7.6,7.6 0 1,0 -15.2,0zM521.9,83.7a7.6,7.6 0 1,0 15.2,0a7.6,7.6 0 1,0 -15.2,0zM523.1,84a7.6,7.6 0 1,0 15.2,0a7.6,7.6 0 1,0 -15.2,0zM524.3,83.2a7.6,7.6 0 1,0 15.2,0a7.6,7.6 0 1,0 -15.2,0zM525.6,82.5a7.6,7.6 0 1,0 15.2,0a7.6,7.6 0 1,0 -15.2,0zM526.8,82.4a7.6,7.6 0 1,0 15.2,0a7.6,7.6 0 1,0 -15.2,0zM528,81.8a7.6,7.6 0 1,0 15.2,0a7.6,7.6 0 1,0 -15.2,0zM529.2,82.1a7.6,7.6 0 1,0 15.2,0a7.6,7.6 0 1,0 -15.2,0zM530.4,82.2a7.6,7.6 0 1,0 15.2,0a7.6,7.6 0 1,0 -15.2,0zM531.6,81.4a7.6,7.6 0 1,0 15.2,0a7.6,7.6 0 1,0 -15.2,0zM532.9,81.6a7.6,7.6 0 1,0 15.2,0a7.6,7.6 0 1,0 -15.2,0zM534.1,82a7.6,7.6 0 1,0 15.2,0a7.6,7.6 0 1,0 -15.2,0zM535.3,81.3a7.6,7.6 0 1,0 15.2,0a7.6,7.6 0 1,0 -15.2,0zM536.5,81.6a7.6,7.6 0 1,0 15.2,0a7.6,7.6 0 1,0 -15.2,0zM537.7,81a7.6,7.6 0 1,0 15.2,0a7.6,7.6 0 1,0 -15.2,0zM538.9,81a7.6,7.6 0 1,0 15.2,0a7.6,7.6 0 1,0 -15.2,0zM540.1,81a7.6,7.6 0 1,0 15.2,0a7.6,7.6 0 1,0 -15.2,0zM541.4,82a7.6,7.6 0 1,0 15.2,0a7.6,7.6 0 1,0 -15.2,0zM542.6,80.8a7.6,7.6 0 1,0 15.2,0a7.6,7.6 0 1,0 -15.2,0zM543.8,80.6a7.6,7.6 0 1,0 15.2,0a7.6,7.6 0 1,0 -15.2,0zM545,80.4a7.6,7.6 0 1,0 15.2,0a7.6,7.6 0 1,0 -15.2,0zM546.2,80.4a7.6,7.6 0 1,0 15.2,0a7.6,7.6 0 1,0 -15.2,0zM547.4,80.5a7.6,7.6 0 1,0 15.2,0a7.6,7.6 0 1,0 -15.2,0zM548.6,80.2a7.6,7.6 0 1,0 15.2,0a7.6,7.6 0 1,0 -15.2,0zM549.9,80.9a7.6,7.6 0 1,0 15.2,0a7.6,7.6 0 1,0 -15.2,0zM551.1,80.1a7.6,7.6 0 1,0 15.2,0a7.6,7.6 0 1,0 -15.2,0zM552.3,80.6a7.6,7.6 0 1,0 15.2,0a7.6,7.6 0 1,0 -15.2,0zM553.5,80.2a7.6,7.6 0 1,0 15.2,0a7.6,7.6 0 1,0 -15.2,0zM554.7,80.4a7.6,7.6 0 1,0 15.2,0a7.6,7.6 0 1,0 -15.2,0zM555.9,79.7a7.6,7.6 0 1,0 15.2,0a7.6,7.6 0 1,0 -15.2,0zM557.1,80.3a7.6,7.6 0 1,0 15.2,0a7.6,7.6 0 1,0 -15.2,0zM558.4,80.4a7.6,7.6 0 1,0 15.2,0a7.6,7.6 0 1,0 -15.2,0zM559.6,80.5a7.6,7.6 0 1,0 15.2,0a7.6,7.6 0 1,0 -15.2,0zM560.8,79.9a7.6,7.6 0 1,0 15.2,0a7.6,7.6 0 1,0 -15.2,0zM562,81.2a7.6,7.6 0 1,0 15.2,0a7.6,7.6 0 1,0 -15.2,0zM563.2,80.7a7.6,7.6 0 1,0 15.2,0a7.6,7.6 0 1,0 -15.2,0zM564.4,80.6a7.6,7.6 0 1,0 15.2,0a7.6,7.6 0 1,0 -15.2,0zM565.7,80.7a7.6,7.6 0 1,0 15.2,0a7.6,7.6 0 1,0 -15.2,0zM566.9,80.7a7.6,7.6 0 1,0 15.2,0a7.6,7.6 0 1,0 -15.2,0zM568.1,80.8a7.6,7.6 0 1,0 15.2,0a7.6,7.6 0 1,0 -15.2,0zM569.3,80a7.6,7.6 0 1,0 15.2,0a7.6,7.6 0 1,0 -15.2,0zM570.5,80.1a7.6,7.6 0 1,0 15.2,0a7.6,7.6 0 1,0 -15.2,0zM571.7,80.6a7.6,7.6 0 1,0 15.2,0a7.6,7.6 0 1,0 -15.2,0zM572.9,80.5a7.6,7.6 0 1,0 15.2,0a7.6,7.6 0 1,0 -15.2,0zM574.2,80.3a7.6,7.6 0 1,0 15.2,0a7.6,7.6 0 1,0 -15.2,0zM575.4,80.2a7.6,7.6 0 1,0 15.2,0a7.6,7.6 0 1,0 -15.2,0zM576.6,80.1a7.6,7.6 0 1,0 15.2,0a7.6,7.6 0 1,0 -15.2,0zM577.8,80.4a7.6,7.6 0 1,0 15.2,0a7.6,7.6 0 1,0 -15.2,0zM579,81a7.6,7.6 0 1,0 15.2,0a7.6,7.6 0 1,0 -15.2,0zM580.2,80.1a7.6,7.6 0 1,0 15.2,0a7.6,7.6 0 1,0 -15.2,0zM581.4,81.1a7.6,7.6 0 1,0 15.2,0a7.6,7.6 0 1,0 -15.2,0zM582.7,81a7.6,7.6 0 1,0 15.2,0a7.6,7.6 0 1,0 -15.2,0zM583.9,80.5a7.6,7.6 0 1,0 15.2,0a7.6,7.6 0 1,0 -15.2,0zM585.1,81a7.6,7.6 0 1,0 15.2,0a7.6,7.6 0 1,0 -15.2,0zM586.3,80.1a7.6,7.6 0 1,0 15.2,0a7.6,7.6 0 1,0 -15.2,0zM587.5,80.1a7.6,7.6 0 1,0 15.2,0a7.6,7.6 0 1,0 -15.2,0zM588.7,80.3a7.6,7.6 0 1,0 15.2,0a7.6,7.6 0 1,0 -15.2,0zM589.9,80.8a7.6,7.6 0 1,0 15.2,0a7.6,7.6 0 1,0 -15.2,0zM591.2,81a7.6,7.6 0 1,0 15.2,0a7.6,7.6 0 1,0 -15.2,0zM592.4,81a7.6,7.6 0 1,0 15.2,0a7.6,7.6 0 1,0 -15.2,0zM593.6,81.4a7.6,7.6 0 1,0 15.2,0a7.6,7.6 0 1,0 -15.2,0zM594.8,80.6a7.6,7.6 0 1,0 15.2,0a7.6,7.6 0 1,0 -15.2,0zM596,81.8a7.6,7.6 0 1,0 15.2,0a7.6,7.6 0 1,0 -15.2,0zM597.2,81.2a7.6,7.6 0 1,0 15.2,0a7.6,7.6 0 1,0 -15.2,0zM598.5,81.7a7.6,7.6 0 1,0 15.2,0a7.6,7.6 0 1,0 -15.2,0zM599.7,82a7.6,7.6 0 1,0 15.2,0a7.6,7.6 0 1,0 -15.2,0zM600.9,81.9a7.6,7.6 0 1,0 15.2,0a7.6,7.6 0 1,0 -15.2,0zM602.1,82a7.6,7.6 0 1,0 15.2,0a7.6,7.6 0 1,0 -15.2,0zM603.3,82.3a7.6,7.6 0 1,0 15.2,0a7.6,7.6 0 1,0 -15.2,0zM604.5,82.8a7.6,7.6 0 1,0 15.2,0a7.6,7.6 0 1,0 -15.2,0zM605.7,83.3a7.6,7.6 0 1,0 15.2,0a7.6,7.6 0 1,0 -15.2,0zM607,83.5a7.6,7.6 0 1,0 15.2,0a7.6,7.6 0 1,0 -15.2,0zM608.2,83a7.6,7.6 0 1,0 15.2,0a7.6,7.6 0 1,0 -15.2,0zM609.4,83.3a7.6,7.6 0 1,0 15.2,0a7.6,7.6 0 1,0 -15.2,0zM610.6,83.4a7.6,7.6 0 1,0 15.2,0a7.6,7.6 0 1,0 -15.2,0zM611.8,83.9a7.6,7.6 0 1,0 15.2,0a7.6,7.6 0 1,0 -15.2,0zM613,82.9a7.6,7.6 0 1,0 15.2,0a7.6,7.6 0 1,0 -15.2,0zM614.2,84.2a7.6,7.6 0 1,0 15.2,0a7.6,7.6 0 1,0 -15.2,0zM615.5,83.4a7.6,7.6 0 1,0 15.2,0a7.6,7.6 0 1,0 -15.2,0zM616.7,83.2a7.6,7.6 0 1,0 15.2,0a7.6,7.6 0 1,0 -15.2,0zM617.9,83.5a7.6,7.6 0 1,0 15.2,0a7.6,7.6 0 1,0 -15.2,0zM619.1,83.6a7.6,7.6 0 1,0 15.2,0a7.6,7.6 0 1,0 -15.2,0zM620.3,83.1a7.6,7.6 0 1,0 15.2,0a7.6,7.6 0 1,0 -15.2,0zM621.5,83.2a7.6,7.6 0 1,0 15.2,0a7.6,7.6 0 1,0 -15.2,0zM622.7,82.5a7.6,7.6 0 1,0 15.2,0a7.6,7.6 0 1,0 -15.2,0zM624,82.7a7.6,7.6 0 1,0 15.2,0a7.6,7.6 0 1,0 -15.2,0zM625.2,82.5a7.6,7.6 0 1,0 15.2,0a7.6,7.6 0 1,0 -15.2,0zM626.4,81.7a7.6,7.6 0 1,0 15.2,0a7.6,7.6 0 1,0 -15.2,0zM627.6,82.1a7.6,7.6 0 1,0 15.2,0a7.6,7.6 0 1,0 -15.2,0zM628.8,81.3a7.6,7.6 0 1,0 15.2,0a7.6,7.6 0 1,0 -15.2,0zM630,81.1a7.6,7.6 0 1,0 15.2,0a7.6,7.6 0 1,0 -15.2,0zM631.3,80.5a7.6,7.6 0 1,0 15.2,0a7.6,7.6 0 1,0 -15.2,0zM632.5,80.6a7.6,7.6 0 1,0 15.2,0a7.6,7.6 0 1,0 -15.2,0zM633.7,80.9a7.6,7.6 0 1,0 15.2,0a7.6,7.6 0 1,0 -15.2,0zM634.9,79.9a7.6,7.6 0 1,0 15.2,0a7.6,7.6 0 1,0 -15.2,0zM636.1,80.6a7.6,7.6 0 1,0 15.2,0a7.6,7.6 0 1,0 -15.2,0zM637.3,80.5a7.6,7.6 0 1,0 15.2,0a7.6,7.6 0 1,0 -15.2,0zM638.5,80.4a7.6,7.6 0 1,0 15.2,0a7.6,7.6 0 1,0 -15.2,0zM639.8,79.4a7.6,7.6 0 1,0 15.2,0a7.6,7.6 0 1,0 -15.2,0zM641,80.1a7.6,7.6 0 1,0 15.2,0a7.6,7.6 0 1,0 -15.2,0zM642.2,80.4a7.6,7.6 0 1,0 15.2,0a7.6,7.6 0 1,0 -15.2,0zM643.4,79.7a7.6,7.6 0 1,0 15.2,0a7.6,7.6 0 1,0 -15.2,0z" fill="#00ff00"/>
<!-- data: B||[001] -->
<path d="M141.5,488.3 142.7,487.5 143.9,486.7 145.2,485.7 146.4,484.5 147.6,484.2 148.8,483.2 150,483 151.2,481.3 152.5,482 153.7,480.7 154.9,479.7 156.1,478.7 157.3,478 158.5,477.1 159.8,476.5 161,476 162.2,475 163.4,473.5 164.6,473.2 165.8,472.1 167.1,471.8 168.3,472 169.5,470.8 170.7,469.6 171.9,468.3 173.2,467.8 174.4,466.9 175.6,467.3 176.8,465.7 178,465.3 179.2,464.1 180.5,463.6 181.7,463.4 182.9,461.5 184.1,460.8 185.3,459.8 186.5,459.9 187.8,458.1 189,457.3 190.2,456.5 191.4,455.9 192.6,456.1 193.8,456.4 195.1,453.9 196.3,454.2 197.5,453.1 198.7,451.5 199.9,451.1 201.2,450.2 202.4,449.1 203.6,449.6 204.8,446.7 206,447 207.2,446.1 208.5,444.9 209.7,444.4 210.9,444 212.1,442.8 213.3,442.2 214.5,441.7 215.8,439.6 217,440.6 218.2,440.4 219.4,439.1 220.6,438.5 221.8,436.6 223.1,436.6 224.3,435.6 225.5,435.1 226.7,435.2 227.9,433.7 229.2,433.4 230.4,431.7 231.6,431.9 232.8,431.3 234,430.1 235.2,429.4 236.5,430 237.7,427.8 238.9,427.2 240.1,426.6 241.3,426.9 242.5,426.6 243.8,424.9 245,423.6 246.2,422.9 247.4,422.8 248.6,421 249.9,421.4 251.1,420.5 252.3,419 253.5,418.5 254.7,417.7 255.9,417.3 257.2,415.2 258.4,415.5 259.6,414 260.8,413.1 262,412.8 263.2,412 264.5,410.9 265.7,409.8 266.9,409.4 268.1,409.8 269.3,409.4 270.5,408.1 271.8,407.7 273,406.3 274.2,406 275.4,405.6 276.6,404.3 277.9,403.7 279.1,403.6 280.3,402.7 281.5,401.6 282.7,401.7 283.9,400.7 285.2,400.6 286.4,399.4 287.6,398.6 288.8,398.1 290,397.2 291.2,396.2 292.5,395.5 293.7,395.4 294.9,394.6 296.1,394.2 297.3,392.1 298.5,392 299.8,391.2 301,390.7 302.2,389.6 303.4,388.8 304.6,388.7 305.9,387.7 307.1,386.3 308.3,386.9 309.5,386.2 310.7,384.7 311.9,384.8 313.2,383.4 314.4,383.6 315.6,382.3 316.8,381.2 318,380.6 319.2,379.6 320.5,379.3 321.7,378.5 322.9,377.6 324.1,376.6 325.3,374.4 326.5,375.7 327.8,374.2 329,374.7 330.2,374.7 331.4,373.8 332.6,372.9 333.9,372.4 335.1,371.8 336.3,370.9 337.5,370.2 338.7,369.3 339.9,369.6 341.2,368.3 342.4,368.1 343.6,366.8 344.8,366.2 346,365.4 347.2,364.9 348.5,364.4 349.7,363.4 350.9,362.3 352.1,361.6 353.3,362.2 354.5,360.8 355.8,360.3 357,360.7 358.2,359.9 359.4,359.1 360.6,358 361.9,358.6 363.1,357 364.3,356.3 365.5,355.3 366.7,353.9 367.9,353.3 369.2,353.5 370.4,352.7 371.6,351.7 372.8,350.5 374,349.6 375.2,349.5 376.5,348.2 377.7,348.6 378.9,348 380.1,348 381.3,346.2 382.5,344.7 383.8,343.8 385,341.8 386.2,342.5 387.4,342 388.6,341.9 389.9,341.1 391.1,340.5 392.3,339.7 393.5,339.2 394.7,338.9 395.9,336.9 397.2,336.5 398.4,335.4 399.6,336.2 400.8,335.4 402,334.4 403.2,332.9 404.5,332.9 405.7,332 406.9,331.5 408.1,330.7 409.3,330.4 410.6,329.4 411.8,329.4 413,328.5 414.2,327.6 415.4,327 416.6,326.1 417.9,326.1 419.1,324.7 420.3,324.2 421.5,323 422.7,321.6 423.9,322 425.2,320.2 426.4,320.4 427.6,319.5 428.8,317.9 430,317.7 431.2,317.4 432.5,316.7 433.7,316 434.9,316.4 436.1,315.2 437.3,314.9 438.6,313.8 439.8,313.5 441,312.3 442.2,312.1 443.4,311.7 444.6,310.8 445.9,309.9 447.1,308.9 448.3,308.8 449.5,308.2 450.7,307.1 451.9,306 453.2,305.9 454.4,306.1 455.6,303.9 456.8,303.4 458,302.6 459.2,300.3 460.5,300.8 461.7,299.6 462.9,299.9 464.1,298.3 465.3,297.4 466.6,297 467.8,296.5 469,295.4 470.2,294.9 471.4,293.5 472.6,293.3 473.9,293 475.1,292.9 476.3,291.6 477.5,290.7 478.7,290.5 479.9,289.8 481.2,289.5 482.4,288.5 483.6,287.2 484.8,286.7 486,285.9 487.2,285.3 488.5,284.5 489.7,283.3 490.9,282 492.1,282 493.3,280.6 494.6,280.9 495.8,280.1 497,278.4 498.2,278.7 499.4,278 500.6,276.8 501.9,276.7 503.1,276 504.3,273.6 505.5,273.9 506.7,272.9 507.9,272.1 509.2,271.7 510.4,270.3 511.6,269.7 512.8,268.9 514,268.3 515.2,267.8 516.5,266.3 517.7,265.7 518.9,265.7 520.1,264.7 521.3,264.2 522.6,262.4 523.8,262.4 525,262 526.2,261.6 527.4,260.7 528.6,260.7 529.9,259.4 531.1,258.5 532.3,257.6 533.5,257 534.7,255.5 535.9,255.4 537.2,254.2 538.4,253.2 539.6,252.2 540.8,251.6 542,251 543.2,250 544.5,248.8 545.7,248.1 546.9,246.8 548.1,246.4 549.3,244.9 550.6,243 551.8,243.9 553,242.5 554.2,241.1 555.4,240.8 556.6,239.7 557.9,240.4 559.1,238.8 560.3,236.9 561.5,237.1 562.7,235.7 563.9,236 565.2,233.6 566.4,232.1 567.6,232.3 568.8,231.3 570,230.3 571.3,228.4 572.5,228.7 573.7,228.2 574.9,225.4 576.1,225.9 577.3,223.9 578.6,224.4 579.8,222.6 581,221.4 582.2,221.2 583.4,220.1 584.6,218.7 585.9,218.5 587.1,217 588.3,215.3 589.5,216.2 590.7,213.9 591.9,212.8 593.2,212.2 594.4,210.2 595.6,209.3 596.8,208.8 598,207.8 599.3,207.2 600.5,206.7 601.7,205 602.9,204.5 604.1,203.6 605.3,201.8 606.6,201.5 607.8,199.9 609,199.8 610.2,198.5 611.4,197.3 612.6,195.5 613.9,195.2 615.1,193.7 616.3,193.4 617.5,192 618.7,190.6 619.9,190.5 621.2,189.5 622.4,187.9 623.6,187.9 624.8,186.2 626,185.3 627.3,184.5 628.5,183.1 629.7,182.3 630.9,181.4 632.1,181.2 633.3,180.1 634.6,178.2 635.8,178.1 637,176.2 638.2,175.3 639.4,174.4 640.6,173 641.9,173 643.1,170.9 644.3,169.1 645.5,169.4 646.7,167.6 647.9,166.8 649.2,164.5 650.4,165.6 651.6,164.6" fill="none" stroke="#ff0000" stroke-width="14.4" stroke-linecap="round" stroke-linejoin="round"/>
<!-- model curves -->
<g fill="none" stroke="#000" stroke-width="2.3" stroke-linejoin="miter">
<polyline points="141.6,488.3 165.3,450.9 189,414.8 212.7,379.8 236.4,342.8 260.1,306.9 283.8,272.1 307.5,234.9 331.2,197.9 354.9,161.2 378.6,125.9 402,92.5 426,84.6 449.7,78.8 473.4,74.7 497.1,71.2 520.8,68.2 544.5,65.2 568.2,63.2 591.9,61.4 615.6,59.9 639.3,58.7 663,57.6 686.7,56.5 710.4,55.7 734.1,55 757.8,54.3 778.4,53.7"/>
<polyline points="141.6,488.3 165.3,453.2 189,419.3 212.7,387 236.4,352.9 260.1,319 283.8,285.5 307.5,251.8 331.2,218.3 354.9,185.7 378.6,152.8 402,117.8 425.4,102 449.7,96.5 473.4,92.1 497.1,88.4 520.8,85.4 544.5,82.4 568.2,80.3 591.9,78.4 615.6,76.9 639.3,75.5 663,74.2 686.7,73.5 710.4,72.7 734.1,72 757.8,71.1 778.4,70.4"/>
<polyline points="141.6,488.3 165.3,473.8 189,459.4 212.7,445.1 236.4,431 260.1,417.1 283.8,403.3 307.5,389.5 331.2,375.8 354.9,362.4 378.6,349.6 402.3,336.7 426,323.7 449.7,310.2 473.4,295.5 497.1,280.2 520.8,264.5 544.5,248.1 568.2,230.5 591.9,212.2 615.6,193 639.3,173 663,152.9 686.7,132.6 710.4,111.8 734.2,90.5 757.8,89.7 778.4,89.3"/>
</g>
<!-- frame and ticks -->
<rect x="141.6" y="34.3" width="636.8" height="454" fill="none" stroke="#000" stroke-width="1.6"/>
<path d="M141.6,488.3v-7.2 M141.6,34.3v7.2 M157.5,488.3v-3.4 M157.5,34.3v3.4 M173.4,488.3v-3.4 M173.4,34.3v3.4 M189.4,488.3v-3.4 M189.4,34.3v3.4 M205.3,488.3v-3.4 M205.3,34.3v3.4 M221.2,488.3v-7.2 M221.2,34.3v7.2 M237.1,488.3v-3.4 M237.1,34.3v3.4 M253,488.3v-3.4 M253,34.3v3.4 M269,488.3v-3.4 M269,34.3v3.4 M284.9,488.3v-3.4 M284.9,34.3v3.4 M300.8,488.3v-7.2 M300.8,34.3v7.2 M316.7,488.3v-3.4 M316.7,34.3v3.4 M332.6,488.3v-3.4 M332.6,34.3v3.4 M348.6,488.3v-3.4 M348.6,34.3v3.4 M364.5,488.3v-3.4 M364.5,34.3v3.4 M380.4,488.3v-7.2 M380.4,34.3v7.2 M396.3,488.3v-3.4 M396.3,34.3v3.4 M412.2,488.3v-3.4 M412.2,34.3v3.4 M428.2,488.3v-3.4 M428.2,34.3v3.4 M444.1,488.3v-3.4 M444.1,34.3v3.4 M460,488.3v-7.2 M460,34.3v7.2 M475.9,488.3v-3.4 M475.9,34.3v3.4 M491.8,488.3v-3.4 M491.8,34.3v3.4 M507.8,488.3v-3.4 M507.8,34.3v3.4 M523.7,488.3v-3.4 M523.7,34.3v3.4 M539.6,488.3v-7.2 M539.6,34.3v7.2 M555.5,488.3v-3.4 M555.5,34.3v3.4 M571.4,488.3v-3.4 M571.4,34.3v3.4 M587.4,488.3v-3.4 M587.4,34.3v3.4 M603.3,488.3v-3.4 M603.3,34.3v3.4 M619.2,488.3v-7.2 M619.2,34.3v7.2 M635.1,488.3v-3.4 M635.1,34.3v3.4 M651,488.3v-3.4 M651,34.3v3.4 M667,488.3v-3.4 M667,34.3v3.4 M682.9,488.3v-3.4 M682.9,34.3v3.4 M698.8,488.3v-7.2 M698.8,34.3v7.2 M714.7,488.3v-3.4 M714.7,34.3v3.4 M730.6,488.3v-3.4 M730.6,34.3v3.4 M746.6,488.3v-3.4 M746.6,34.3v3.4 M762.5,488.3v-3.4 M762.5,34.3v3.4 M778.4,488.3v-7.2 M778.4,34.3v7.2 M141.6,488.3h7.2 M778.4,488.3h-7.2 M141.6,475.3h3.4 M778.4,475.3h-3.4 M141.6,462.4h3.4 M778.4,462.4h-3.4 M141.6,449.4h3.4 M778.4,449.4h-3.4 M141.6,436.4h3.4 M778.4,436.4h-3.4 M141.6,423.4h7.2 M778.4,423.4h-7.2 M141.6,410.5h3.4 M778.4,410.5h-3.4 M141.6,397.5h3.4 M778.4,397.5h-3.4 M141.6,384.5h3.4 M778.4,384.5h-3.4 M141.6,371.6h3.4 M778.4,371.6h-3.4 M141.6,358.6h7.2 M778.4,358.6h-7.2 M141.6,345.6h3.4 M778.4,345.6h-3.4 M141.6,332.6h3.4 M778.4,332.6h-3.4 M141.6,319.7h3.4 M778.4,319.7h-3.4 M141.6,306.7h3.4 M778.4,306.7h-3.4 M141.6,293.7h7.2 M778.4,293.7h-7.2 M141.6,280.8h3.4 M778.4,280.8h-3.4 M141.6,267.8h3.4 M778.4,267.8h-3.4 M141.6,254.8h3.4 M778.4,254.8h-3.4 M141.6,241.8h3.4 M778.4,241.8h-3.4 M141.6,228.9h7.2 M778.4,228.9h-7.2 M141.6,215.9h3.4 M778.4,215.9h-3.4 M141.6,202.9h3.4 M778.4,202.9h-3.4 M141.6,190h3.4 M778.4,190h-3.4 M141.6,177h3.4 M778.4,177h-3.4 M141.6,164h7.2 M778.4,164h-7.2 M141.6,151h3.4 M778.4,151h-3.4 M141.6,138.1h3.4 M778.4,138.1h-3.4 M141.6,125.1h3.4 M778.4,125.1h-3.4 M141.6,112.1h3.4 M778.4,112.1h-3.4 M141.6,99.2h7.2 M778.4,99.2h-7.2 M141.6,86.2h3.4 M778.4,86.2h-3.4 M141.6,73.2h3.4 M778.4,73.2h-3.4 M141.6,60.2h3.4 M778.4,60.2h-3.4 M141.6,47.3h3.4 M778.4,47.3h-3.4 M141.6,34.3h7.2 M778.4,34.3h-7.2" fill="none" stroke="#000" stroke-width="1.2"/>
<!-- tick labels -->
<text transform="translate(145,527) scale(1,1.04)" text-anchor="middle">0</text><text transform="translate(224.6,527) scale(1,1.04)" text-anchor="middle">5</text><text transform="translate(304.2,527) scale(1,1.04)" text-anchor="middle"><tspan class="h">1</tspan>0</text><path transform="translate(288.07,527) scale(29.0,-29.0)" d="M0.102,0.505V0.566Q0.224,0.577 0.263,0.627Q0.280,0.650 0.289,0.709H0.346V0H0.258V0.505Z"/><text transform="translate(383.8,527) scale(1,1.04)" text-anchor="middle"><tspan class="h">1</tspan>5</text><path transform="translate(367.67,527) scale(29.0,-29.0)" d="M0.102,0.505V0.566Q0.224,0.577 0.263,0.627Q0.280,0.650 0.289,0.709H0.346V0H0.258V0.505Z"/><text transform="translate(463.4,527) scale(1,1.04)" text-anchor="middle">20</text><text transform="translate(543,527) scale(1,1.04)" text-anchor="middle">25</text><text transform="translate(622.6,527) scale(1,1.04)" text-anchor="middle">30</text><text transform="translate(702.2,527) scale(1,1.04)" text-anchor="middle">35</text><text transform="translate(781.8,527) scale(1,1.04)" text-anchor="middle">40</text>
<text transform="translate(124,498.4) scale(1,1.04)" text-anchor="end">0</text><text transform="translate(124,433.5) scale(1,1.04)" text-anchor="end">0.5</text><text transform="translate(124,368.7) scale(1,1.04)" text-anchor="end"><tspan class="h">1</tspan></text><path transform="translate(107.87,368.7) scale(29.0,-29.0)" d="M0.102,0.505V0.566Q0.224,0.577 0.263,0.627Q0.280,0.650 0.289,0.709H0.346V0H0.258V0.505Z"/><text transform="translate(124,303.8) scale(1,1.04)" text-anchor="end"><tspan class="h">1</tspan>.5</text><path transform="translate(83.68,303.8) scale(29.0,-29.0)" d="M0.102,0.505V0.566Q0.224,0.577 0.263,0.627Q0.280,0.650 0.289,0.709H0.346V0H0.258V0.505Z"/><text transform="translate(124,239) scale(1,1.04)" text-anchor="end">2</text><text transform="translate(124,174.1) scale(1,1.04)" text-anchor="end">2.5</text><text transform="translate(124,109.3) scale(1,1.04)" text-anchor="end">3</text><text transform="translate(124,44.4) scale(1,1.04)" text-anchor="end">3.5</text>
<!-- axis titles -->
<text transform="translate(460,569.8) scale(1,1.04)" text-anchor="middle">B (T)</text>
<text transform="translate(29.8,318.3) rotate(-90) scale(1,1.04)">M<tspan dy="9.2" font-size="23.2">Co</tspan><tspan dy="-9.2" dx="-1.3"> (&#956;</tspan><tspan dy="9.2" font-size="23.2">B</tspan><tspan dy="-9.2">)</tspan></text>
<!-- legend -->
<text transform="translate(650.4,418.8) scale(1,1.04)" text-anchor="end">B<tspan class="h">||</tspan>[<tspan class="h">1</tspan>00]</text><path transform="translate(593.95,418.8) scale(29.0,-29.0)" d="M0.102,0.505V0.566Q0.224,0.577 0.263,0.627Q0.280,0.650 0.289,0.709H0.346V0H0.258V0.505Z"/>
<text transform="translate(650.4,447.7) scale(1,1.04)" text-anchor="end">B<tspan class="h">||</tspan>[<tspan class="h">11</tspan>0]</text><path transform="translate(593.95,447.7) scale(29.0,-29.0)" d="M0.102,0.505V0.566Q0.224,0.577 0.263,0.627Q0.280,0.650 0.289,0.709H0.346V0H0.258V0.505Z"/><path transform="translate(610.08,447.7) scale(29.0,-29.0)" d="M0.102,0.505V0.566Q0.224,0.577 0.263,0.627Q0.280,0.650 0.289,0.709H0.346V0H0.258V0.505Z"/>
<text transform="translate(650.4,476.6) scale(1,1.04)" text-anchor="end">B<tspan class="h">||</tspan>[00<tspan class="h">1</tspan>]</text><path transform="translate(626.21,476.6) scale(29.0,-29.0)" d="M0.102,0.505V0.566Q0.224,0.577 0.263,0.627Q0.280,0.650 0.289,0.709H0.346V0H0.258V0.505Z"/>
<path d="M573.8,397.7h2v27.1h-2zM581.2,397.7h2v27.1h-2zM573.8,426.6h2v27.1h-2zM581.2,426.6h2v27.1h-2zM573.8,455.5h2v27.1h-2zM581.2,455.5h2v27.1h-2z" fill="#000"/>
<rect x="697.8" y="401.8" width="15" height="15" fill="#0000ff"/>
<circle cx="705.3" cy="438.4" r="7.3" fill="none" stroke="#00ff00" stroke-width="0.8"/>
<circle cx="705.3" cy="438.4" r="0.5" fill="#00ff00"/>
<circle cx="705.3" cy="466.9" r="7.4" fill="#ff0000"/>
</svg>
</body>
</html>
